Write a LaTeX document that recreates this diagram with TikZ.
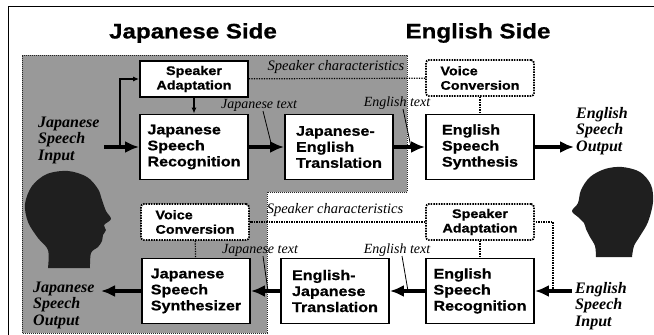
\documentclass[tikz,border=0pt]{standalone}
\usepackage{fontspec}
\setmainfont{Liberation Serif}
\newfontfamily\blockfont[FakeStretch=1.15, FakeBold=0.8]{Liberation Sans}
\usetikzlibrary{arrows.meta, positioning, calc}

\tikzset{
  procbox/.style={draw, line width=1.8pt, fill=white, inner sep=0pt,
    minimum width=108pt, minimum height=65pt, align=left,
    font=\blockfont\bfseries\fontsize{14}{16}\selectfont},
  smallbox/.style={draw, line width=1.8pt, fill=white, inner sep=0pt,
    minimum width=108pt, minimum height=36pt,
    font=\blockfont\bfseries\fontsize{12.5}{14.5}\selectfont},
  optbox/.style={smallbox, dash pattern=on 1.5pt off 1.1pt, rounded corners=3pt},
  bigarrow/.style={line width=3.8pt, -{Latex[length=14pt, width=12pt]}},
  thinarrow/.style={line width=1.2pt, -{Latex[length=6pt, width=5pt]}},
  dotline/.style={line width=1.2pt, dash pattern=on 1.2pt off 1.3pt},
  leader/.style={line width=0.8pt},
  spklbl/.style={font=\bfseries\itshape\fontsize{16}{16.5}\selectfont, align=left, inner sep=0pt},
  txtlbl/.style={font=\itshape\fontsize{14}{15}\selectfont, inner sep=0pt},
  sidetitle/.style={font=\blockfont\bfseries\fontsize{21}{23}\selectfont},
  headfill/.style={fill=black!88},
  shade/.style={fill=black!40, draw=black!85, line width=0.9pt, dash pattern=on 1pt off 1pt}
}

\begin{document}
\begin{tikzpicture}[x=1pt, y=-1pt]
\useasboundingbox (0,0) rectangle (654,335);

% frame
\draw[line width=0.8pt] (8,335) -- (8,6) -- (654,6);

% shaded Japanese-side region
\path[shade] (22,55) -- (407,55) -- (407,192) -- (267,192) -- (267,333)
  -- (22,333) -- cycle;

% titles
\node[sidetitle] (jside) at (193,33) {Japanese Side};
\node[sidetitle] (eside) at (478,33) {English Side};

% heads
\path[headfill] plot[smooth, tension=0.55] coordinates {
  (90,268) (91,253) (98,247) (102,241) (103,235) (106,230) (104,225)
  (111,219) (106,211) (102,200) (98,189) (87,177) (68,171) (47,174)
  (32,186) (25,204) (28,222) (38,238) (48,250) (48,268)} -- cycle;
\path[headfill] plot[smooth, tension=0.55] coordinates {
  (596,257) (595,246) (590,237) (586,229) (584,223) (578,217) (572,211)
  (578,203) (581,190) (590,177) (605,169) (622,167) (640,172) (651,185)
  (653,202) (648,222) (640,236) (634,246) (632,257)} -- cycle;

% Japanese -> English path (top row)
\node[smallbox, align=center] (sa1) at (194,79) {Speaker\\Adaptation};
\node[procbox] (jsr) at (194,147) {Japanese\\Speech\\Recognition};
\node[procbox] (jet) at (339,147) {Japanese-\\English\\Translation};
\node[optbox, align=left] (vc1) at (480,78) {Voice\\Conversion};
\node[procbox] (ess) at (480,147) {English\\Speech\\Synthesis};

\node[spklbl, anchor=west] (jin) at (38,140) {Japanese\\Speech\\Input};
\node[spklbl, anchor=west] (eout) at (576,131) {English\\Speech\\Output};

\coordinate (jstart) at (104,147);
\coordinate (jbr) at (120,147);
\coordinate (eend) at (574,147);

\draw[bigarrow] (jstart) -- (jsr.west);
\draw[thinarrow] (jbr) |- (sa1.west);
\draw[thinarrow] (sa1) -- (jsr);
\draw[bigarrow] (jsr) -- (jet);
\draw[bigarrow] (jet) -- (ess);
\draw[bigarrow] (ess) -- (eend);
\draw[dotline] (sa1) -- (vc1);
\draw[dotline] (vc1) -- (ess);

\node[txtlbl, font=\itshape\fontsize{14.5}{15}\selectfont] (spk1) at (336,67) {Speaker characteristics};
\node[txtlbl] (jtxt1) at (259,105) {Japanese text};
\node[txtlbl] (etxt1) at (397,103) {English text};
\coordinate (jt1a) at (263,111);
\coordinate (jt1b) at (272,147);
\coordinate (et1a) at (403,109);
\coordinate (et1b) at (411,147);
\draw[leader] (jt1a) -- (jt1b);
\draw[leader] (et1a) -- (et1b);

% English -> Japanese path (bottom row)
\node[optbox, align=left] (vc2) at (195,222) {Voice\\Conversion};
\node[procbox] (jss) at (196,291) {Japanese\\Speech\\Synthesizer};
\node[procbox] (ejt) at (335,291) {English-\\Japanese\\Translation};
\node[optbox, align=center] (sa2) at (480,222) {Speaker\\Adaptation};
\node[procbox] (esr) at (480,291) {English\\Speech\\Recognition};

\node[spklbl, anchor=west] (jout) at (33,305) {Japanese\\Speech\\Output};
\node[spklbl, anchor=west] (ein) at (575,306) {English\\Speech\\Input};

\coordinate (estart) at (572,291);
\coordinate (ebr) at (553,291);
\coordinate (jend) at (101,291);

\draw[bigarrow] (estart) -- (esr.east);
\draw[dotline] (ebr) |- (sa2.east);
\draw[dotline] (sa2) -- (esr);
\draw[bigarrow] (esr) -- (ejt);
\draw[bigarrow] (ejt) -- (jss);
\draw[bigarrow] (jss) -- (jend);
\draw[dotline] (sa2) -- (vc2);
\draw[dotline] (vc2) -- (jss);

\node[txtlbl, font=\itshape\fontsize{14.5}{15}\selectfont] (spk2) at (335,210) {Speaker characteristics};
\node[txtlbl] (jtxt2) at (260,250) {Japanese text};
\node[txtlbl] (etxt2) at (397,250) {English text};
\coordinate (jt2a) at (263,256);
\coordinate (jt2b) at (268,291);
\coordinate (et2a) at (402,256);
\coordinate (et2b) at (408,291);
\draw[leader] (jt2a) -- (jt2b);
\draw[leader] (et2a) -- (et2b);
\end{tikzpicture}
\end{document}
